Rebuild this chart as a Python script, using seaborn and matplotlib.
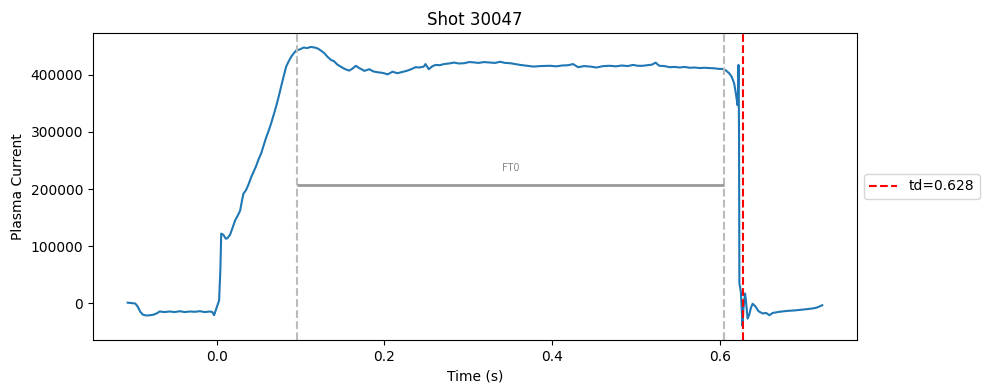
import matplotlib
matplotlib.use("Agg")
import matplotlib.pyplot as plt
import seaborn as sns
import pandas as pd

# ---- data ----
time_s = [
    -0.106, -0.100, -0.097, -0.094, -0.091, -0.088, -0.084, -0.079, -0.075, -0.071,
    -0.068, -0.062, -0.056, -0.050, -0.044, -0.038, -0.032, -0.026, -0.020, -0.014,
    -0.008, -0.005, -0.003, -0.001, 0.001, 0.003, 0.0045, 0.0055, 0.008, 0.011,
    0.013, 0.016, 0.019, 0.022, 0.025, 0.028, 0.030, 0.032, 0.035, 0.038,
    0.041, 0.044, 0.047, 0.050, 0.053, 0.056, 0.059, 0.062, 0.065, 0.068,
    0.071, 0.074, 0.077, 0.080, 0.083, 0.086, 0.089, 0.092, 0.095, 0.098,
    0.101, 0.104, 0.108, 0.112, 0.117, 0.121, 0.125, 0.1285, 0.132, 0.1365,
    0.140, 0.144, 0.148, 0.152, 0.158, 0.162, 0.166, 0.170, 0.174, 0.176,
    0.182, 0.187, 0.192, 0.198, 0.204, 0.2097, 0.2157, 0.221, 0.2275, 0.232,
    0.237, 0.242, 0.247, 0.249, 0.253, 0.257, 0.261, 0.266, 0.271, 0.277,
    0.283, 0.289, 0.295, 0.301, 0.3066, 0.312, 0.319, 0.326, 0.332, 0.338,
    0.344, 0.350, 0.356, 0.362, 0.370, 0.378, 0.386, 0.3976, 0.405, 0.412,
    0.419, 0.425, 0.431, 0.438, 0.446, 0.453, 0.461, 0.469, 0.476, 0.483,
    0.490, 0.4965, 0.502, 0.508, 0.514, 0.519, 0.5234, 0.526, 0.528, 0.534,
    0.540, 0.546, 0.552, 0.558, 0.564, 0.570, 0.576, 0.582, 0.5875, 0.594,
    0.599, 0.603, 0.607, 0.611, 0.614, 0.617, 0.619, 0.621, 0.6215, 0.6222,
    0.6228, 0.6232, 0.625, 0.627, 0.628, 0.630, 0.631, 0.633, 0.635, 0.637,
    0.639, 0.642, 0.646, 0.651, 0.655, 0.659, 0.663, 0.671, 0.680, 0.690,
    0.700, 0.710, 0.716, 0.722,
]
plasma_current = [
    1000, 0, -500, -6000, -15000, -20000, -21500, -21000, -20000, -17500,
    -14500, -15500, -14500, -15500, -14000, -15500, -14500, -15000, -14000, -15500,
    -14500, -15500, -21000, -12000, -3500, 5000, 60000, 122000, 120000, 113000,
    114000, 120000, 132000, 145000, 153000, 162000, 178000, 192000, 198000, 208000,
    220000, 230000, 240000, 252000, 262000, 276000, 290000, 302000, 315000, 330000,
    345000, 362000, 380000, 398000, 415000, 424000, 432000, 438000, 443000, 444000,
    446000, 448000, 447000, 449000, 448000, 446000, 442000, 438000, 432000, 426000,
    424000, 418000, 414500, 411000, 407500, 411000, 416000, 412000, 409000, 407000,
    410000, 406000, 404700, 403500, 401000, 405600, 403000, 405000, 407500, 410000,
    413500, 413000, 414600, 419000, 410000, 415000, 417500, 417000, 419000, 420000,
    421600, 420000, 420500, 422500, 422000, 421000, 422500, 421600, 421000, 423000,
    421000, 420500, 419000, 417500, 416000, 414600, 415500, 416000, 415000, 416500,
    417000, 419000, 413500, 415500, 414500, 413000, 415500, 416000, 415000, 416500,
    415500, 417500, 416000, 416000, 417000, 418000, 421600, 418000, 416000, 415500,
    413500, 414000, 413000, 414000, 412500, 413000, 412000, 412500, 412000, 411500,
    410500, 410500, 408000, 403000, 397000, 385000, 368000, 347000, 360000, 417500,
    300000, 35000, 20000, -40000, -10000, 17000, 5000, -27000, -20000, -8000,
    -1000, -5000, -14000, -18000, -17000, -21000, -17000, -15000, -13500, -12500,
    -11000, -9300, -7500, -3500,
]
flattop_start = 0.096
flattop_end = 0.605
flattop_level = 207000
flattop_label = "FT0"
disruption_time = 0.628
shot_number = 30047

df = pd.DataFrame({"Time (s)": time_s, "Plasma Current": plasma_current})

fig, ax = plt.subplots(figsize=(9.89, 3.90), dpi=100)
sns.lineplot(data=df, x="Time (s)", y="Plasma Current", ax=ax,
             color="#1f77b4", linewidth=1.5)

ax.axvline(flattop_start, color="#bbbbbb", linestyle="--", linewidth=1.5)
ax.axvline(flattop_end, color="#bbbbbb", linestyle="--", linewidth=1.5)
ax.hlines(flattop_level, flattop_start, flattop_end, color="#999999", linewidth=2)
ax.text((flattop_start + flattop_end) / 2, flattop_level + 22000, flattop_label,
        ha="center", va="bottom", fontsize=7, color="#888888")
ax.axvline(disruption_time, color="red", linestyle="--", linewidth=1.5,
           label=f"td={disruption_time}")

ax.set_title(f"Shot {shot_number}")
ax.set_xlabel("Time (s)")
ax.set_ylabel("Plasma Current")
ax.legend(loc="center left", bbox_to_anchor=(1.0, 0.5))

fig.subplots_adjust(left=0.094, right=0.8665, top=0.9154, bottom=0.1282)
fig.savefig("out.png", dpi=100)
